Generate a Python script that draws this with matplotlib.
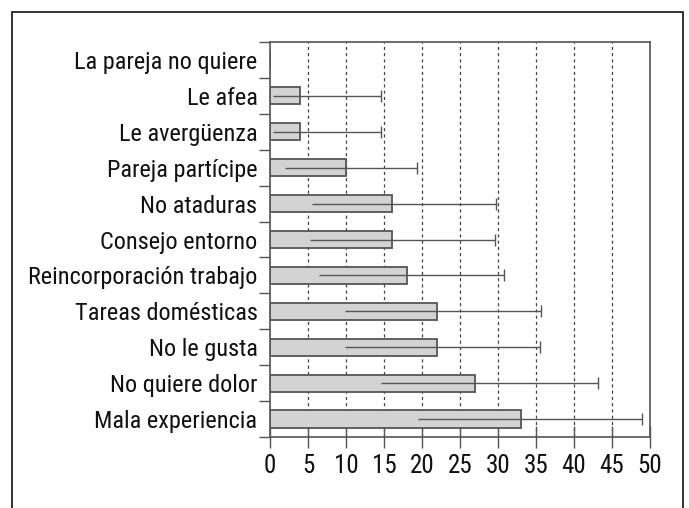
import matplotlib
matplotlib.use("Agg")
import matplotlib.pyplot as plt
from matplotlib import font_manager
from matplotlib.patches import Rectangle

categories = ["La pareja no quiere", "Le afea", "Le avergüenza", "Pareja partícipe",
              "No ataduras", "Consejo entorno", "Reincorporación trabajo",
              "Tareas domésticas", "No le gusta", "No quiere dolor", "Mala experiencia"]
values = [0, 4, 4, 10, 16, 16, 18, 22, 22, 27, 33]
err_low = [None, 0.35, 0.35, 2.0, 5.5, 5.3, 6.5, 9.9, 9.9, 14.6, 19.5]
err_high = [None, 14.6, 14.6, 19.3, 29.7, 29.6, 30.8, 35.6, 35.5, 43.2, 49.0]
xticks = [0, 5, 10, 15, 20, 25, 30, 35, 40, 45, 50]

# pick a condensed sans font if one exists
cands = []
for f in font_manager.fontManager.ttflist:
    fn = f.fname.lower()
    if ("narrow" in fn or "condensed" in fn) and "bold" not in fn and "oblique" not in fn \
            and "italic" not in fn and "semi" not in fn and "extra" not in fn and "light" not in fn:
        cands.append(f.fname)
cands.sort()
fp_file = None
for pref in ["robotocondensed-regular", "liberationsansnarrow-regular",
             "dejavusanscondensed.ttf", "condensed", "narrow"]:
    for c in cands:
        if pref in c.lower():
            fp_file = c
            break
    if fp_file:
        break

def fprop(size):
    if fp_file:
        return font_manager.FontProperties(fname=fp_file, size=size)
    return font_manager.FontProperties(family="DejaVu Sans", size=size, stretch="condensed")

fig = plt.figure(figsize=(6.89, 5.08), dpi=100)
ax = fig.add_axes([270/689, (508-437)/508, (650-270)/689, (437-42)/508])

n = len(categories)
ypos = [n - 1 - i for i in range(n)]

ax.set_axisbelow(True)
for t in xticks[1:-1]:
    ax.axvline(t, color="#444444", linestyle=(0, (2.5, 2.5)), linewidth=0.9, zorder=0)

ax.barh(ypos, values, height=0.48, color="#d3d3d3", edgecolor="#555555", linewidth=1.3, zorder=2)

for y, lo, hi in zip(ypos, err_low, err_high):
    if lo is None:
        continue
    ax.hlines(y, lo, hi, color="#555555", linewidth=1.0, zorder=3)
    ax.plot([hi], [y], marker="|", markersize=9, color="#555555", markeredgewidth=1.0, zorder=3)

ax.set_xlim(0, 50)
ax.set_ylim(-0.5, n - 0.5)
ax.set_xticks(xticks)
ax.set_xticklabels([str(t) for t in xticks], fontproperties=fprop(18), color="#111111")
ax.tick_params(axis="x", direction="inout", length=16, width=1.0, color="#555555", pad=4)

ax.set_yticks([i - 0.5 for i in range(n + 1)])
ax.set_yticklabels([])
ax.set_yticks(ypos, minor=True)
ax.set_yticklabels(categories, minor=True, fontproperties=fprop(17.5), color="#111111")
ax.tick_params(axis="y", which="major", direction="out", length=8, width=1.0, color="#555555")
ax.tick_params(axis="y", which="minor", length=0, pad=9)

for s in ax.spines.values():
    s.set_color("#555555")
    s.set_linewidth(1.2)

fig.patches.append(Rectangle((12/689, -0.01), (683-12)/689, (508-12)/508 + 0.01,
                             transform=fig.transFigure, fill=False, edgecolor="#222222",
                             linewidth=1.3))

fig.savefig("out.png", dpi=100)
